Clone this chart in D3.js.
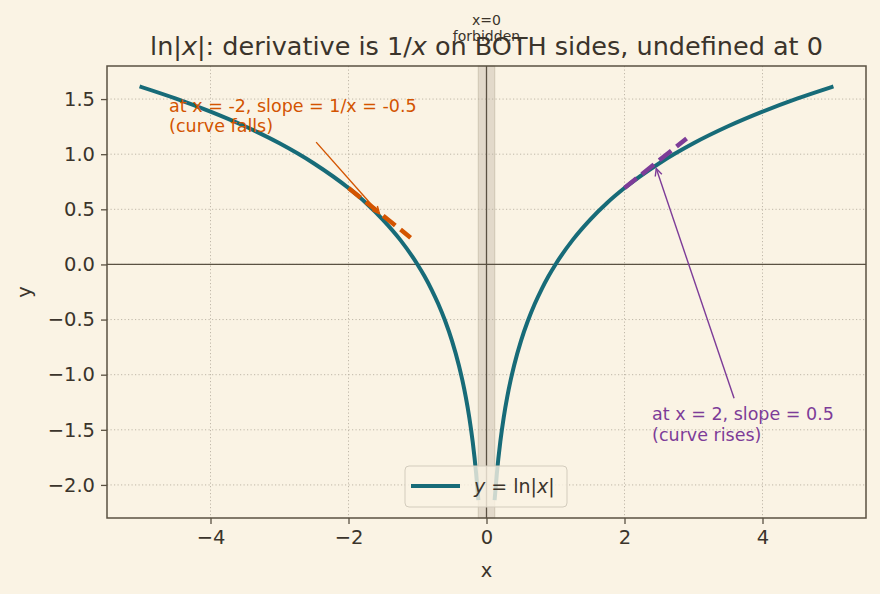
<!DOCTYPE html>
<html lang="en">
<head>
<meta charset="UTF-8">
<title>ln|x| derivative</title>
<script src="https://cdnjs.cloudflare.com/ajax/libs/d3/7.8.5/d3.min.js"></script>
<style>
  body { margin: 0; background: #faf3e4; }
  svg { display: block; font-family: "DejaVu Sans", sans-serif; }
</style>
</head>
<body>
<div id="chart"></div>
<script>
// |x| samples and ln|x| values (right branch; left branch is the mirror)
var xAbs  = [0.12, 0.15, 0.2, 0.25, 0.3, 0.35, 0.4, 0.5, 0.6, 0.7, 0.8, 0.9, 1.0, 1.25, 1.5, 1.75, 2.0, 2.5, 3.0, 3.5, 4.0, 4.5, 5.0];
var lnAbs = [-2.120, -1.897, -1.609, -1.386, -1.204, -1.050, -0.916, -0.693, -0.511, -0.357, -0.223, -0.105, 0, 0.223, 0.405, 0.560, 0.693, 0.916, 1.099, 1.253, 1.386, 1.504, 1.609];

// tangent segments
var tanLeftX  = [-2, -1.1];
var tanLeftY  = [0.693, 0.243];
var tanRightX = [2, 2.9];
var tanRightY = [0.693, 1.143];

var xTicks = [-4, -2, 0, 2, 4];
var yTicks = [-2.0, -1.5, -1.0, -0.5, 0.0, 0.5, 1.0, 1.5];

var width = 880, height = 594;
var margin = { top: 66, right: 14, bottom: 76, left: 107 };

var bg = "#faf3e4";
var ink = "#3b342b";
var frame = "#5a5142";
var teal = "#176b78";
var orange = "#d35400";
var purple = "#7d3c98";

var x = d3.scaleLinear().domain([-5.5, 5.5]).range([margin.left, width - margin.right]);
var y = d3.scaleLinear().domain([-2.3, 1.8]).range([height - margin.bottom, margin.top]);

var svg = d3.select("#chart").append("svg")
  .attr("width", width)
  .attr("height", height);

svg.append("rect").attr("width", width).attr("height", height).attr("fill", bg);

// forbidden band around x = 0
svg.append("rect")
  .attr("x", x(-0.12)).attr("y", y(1.8))
  .attr("width", x(0.12) - x(-0.12)).attr("height", y(-2.3) - y(1.8))
  .attr("fill", "rgba(140,128,108,0.22)")
  .attr("stroke", "rgba(140,128,108,0.3)")
  .attr("stroke-width", 1);

// grid
var grid = svg.append("g").attr("stroke", "#b9b1a1").attr("stroke-width", 0.9).attr("stroke-dasharray", "1.2,2.3");
grid.selectAll(".gx").data(xTicks).enter().append("line")
  .attr("x1", d => x(d)).attr("x2", d => x(d))
  .attr("y1", y(1.8)).attr("y2", y(-2.3));
grid.selectAll(".gy").data(yTicks).enter().append("line")
  .attr("x1", x(-5.5)).attr("x2", x(5.5))
  .attr("y1", d => y(d)).attr("y2", d => y(d));

// zero lines
svg.append("line").attr("x1", x(-5.5)).attr("x2", x(5.5)).attr("y1", y(0)).attr("y2", y(0))
  .attr("stroke", frame).attr("stroke-width", 1.3);
svg.append("line").attr("x1", x(0)).attr("x2", x(0)).attr("y1", y(1.8)).attr("y2", y(-2.3))
  .attr("stroke", frame).attr("stroke-width", 1.3);

// curve
var line = d3.line().x(d => x(d[0])).y(d => y(d[1])).curve(d3.curveMonotoneX);
var right = xAbs.map((v, i) => [v, lnAbs[i]]);
var left = xAbs.map((v, i) => [-v, lnAbs[i]]).reverse();
[left, right].forEach(function (pts) {
  svg.append("path").datum(pts).attr("d", line)
    .attr("fill", "none").attr("stroke", teal).attr("stroke-width", 4)
    .attr("stroke-linecap", "square");
});

// tangents
function tangent(xs, ys, color) {
  svg.append("path").datum(xs.map((v, i) => [v, ys[i]]))
    .attr("d", d3.line().x(d => x(d[0])).y(d => y(d[1])))
    .attr("fill", "none").attr("stroke", color).attr("stroke-width", 4.5)
    .attr("stroke-dasharray", "15.5,6.7");
}
tangent(tanLeftX, tanLeftY, orange);
tangent(tanRightX, tanRightY, purple);

// annotations
var notes = [
  { lines: ["at x = -2, slope = 1/x = -0.5", "(curve falls)"], tx: -4.6, ty: 1.2, px: -1.55, py: 0.46, color: orange },
  { lines: ["at x = 2, slope = 0.5", "(curve rises)"], tx: 2.4, ty: -1.6, px: 2.46, py: 0.87, color: purple }
];
notes.forEach(function (n) {
  var lh = 20.5;
  var t = svg.append("text")
    .attr("x", x(n.tx)).attr("y", y(n.ty) - lh * (n.lines.length - 1))
    .attr("fill", n.color).attr("font-size", 17.5);
  n.lines.forEach(function (s, i) {
    t.append("tspan").attr("x", x(n.tx)).attr("dy", i ? lh : 0).text(s);
  });
  var b = t.node().getBBox();
  var pad = 6;
  var cx = b.x + b.width / 2, cy = b.y + b.height / 2;
  var tx = x(n.px), ty = y(n.py);
  var dx = tx - cx, dy = ty - cy;
  var hw = b.width / 2 + pad, hh = b.height / 2 + pad;
  var s = Math.min(Math.abs(hw / dx), Math.abs(hh / dy));
  var sx = cx + dx * s, sy = cy + dy * s;
  svg.append("line").attr("x1", sx).attr("y1", sy).attr("x2", tx).attr("y2", ty)
    .attr("stroke", n.color).attr("stroke-width", 1.4);
  var ang = Math.atan2(dy, dx), hl = 8, ha = 0.45;
  svg.append("path")
    .attr("d", "M" + (tx - hl * Math.cos(ang - ha)) + "," + (ty - hl * Math.sin(ang - ha)) +
      "L" + tx + "," + ty +
      "L" + (tx - hl * Math.cos(ang + ha)) + "," + (ty - hl * Math.sin(ang + ha)))
    .attr("fill", "none").attr("stroke", n.color).attr("stroke-width", 1.4);
});

// frame
svg.append("rect")
  .attr("x", x(-5.5)).attr("y", y(1.8))
  .attr("width", x(5.5) - x(-5.5)).attr("height", y(-2.3) - y(1.8))
  .attr("fill", "none").attr("stroke", frame).attr("stroke-width", 1.5);

// axes
var xAxis = svg.append("g").attr("transform", "translate(0," + y(-2.3) + ")")
  .call(d3.axisBottom(x).tickValues(xTicks).tickSize(6).tickPadding(6).tickFormat(d3.format("d")));
var yAxis = svg.append("g").attr("transform", "translate(" + x(-5.5) + ",0)")
  .call(d3.axisLeft(y).tickValues(yTicks).tickSize(6).tickPadding(6).tickFormat(d3.format(".1f")));
[xAxis, yAxis].forEach(function (g) {
  g.select(".domain").remove();
  g.selectAll(".tick line").attr("stroke", frame).attr("stroke-width", 1.3);
  g.selectAll(".tick text").attr("fill", ink).attr("font-size", 19.5).attr("font-family", "DejaVu Sans");
});

svg.append("text").attr("x", x(0)).attr("y", 577).attr("text-anchor", "middle")
  .attr("fill", ink).attr("font-size", 19.5).text("x");
svg.append("text").attr("transform", "translate(31," + y(-0.25) + ") rotate(-90)")
  .attr("text-anchor", "middle").attr("fill", ink).attr("font-size", 19.5).text("y");

// title
var title = svg.append("text").attr("x", x(0)).attr("y", 55).attr("text-anchor", "middle")
  .attr("fill", ink).attr("font-size", 25.5);
[["ln|", false], ["x", true], ["|: derivative is 1/", false], ["x", true], [" on BOTH sides, undefined at 0", false]]
  .forEach(function (p) {
    title.append("tspan").attr("font-style", p[1] ? "italic" : "normal").text(p[0]);
  });

// x=0 note (sits over the title, as in the source chart)
var note0 = svg.append("text").attr("text-anchor", "middle").attr("fill", ink).attr("font-size", 14);
note0.append("tspan").attr("x", x(0)).attr("y", 25).text("x=0");
note0.append("tspan").attr("x", x(0)).attr("y", 41).text("forbidden");

// legend
var lg = svg.append("g");
lg.append("rect").attr("x", 405).attr("y", 466).attr("width", 162).attr("height", 41).attr("rx", 4)
  .attr("fill", bg).attr("fill-opacity", 0.8).attr("stroke", "#d3ccbd").attr("stroke-width", 1);
lg.append("line").attr("x1", 411).attr("x2", 460).attr("y1", 486).attr("y2", 486)
  .attr("stroke", teal).attr("stroke-width", 4);
var lt = lg.append("text").attr("x", 474).attr("y", 493).attr("fill", ink).attr("font-size", 19);
[["y", true], [" = ln|", false], ["x", true], ["|", false]].forEach(function (p) {
  lt.append("tspan").attr("font-style", p[1] ? "italic" : "normal").text(p[0]);
});
</script>
</body>
</html>
